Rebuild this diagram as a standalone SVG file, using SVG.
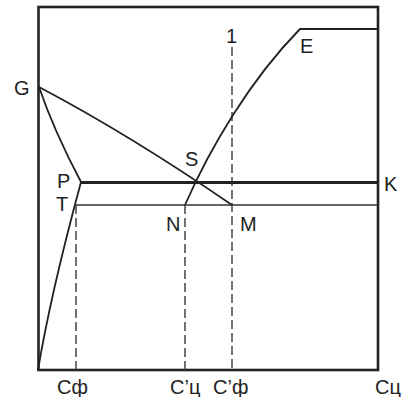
<svg xmlns="http://www.w3.org/2000/svg" width="403" height="397" viewBox="0 0 403 397">
<style>
.frame{fill:none;stroke:#222;stroke-width:2.6}
.curve{fill:none;stroke:#222;stroke-width:1.8}
.thick{fill:none;stroke:#222;stroke-width:3}
.thin{fill:none;stroke:#333;stroke-width:1.4}
.dash{fill:none;stroke:#444;stroke-width:1.5;stroke-dasharray:9 4}
text{font-family:"Liberation Sans",Arial,sans-serif;font-size:20px;fill:#222}
</style>
<rect x="0" y="0" width="403" height="397" fill="#fff"/>
<g id="frame"><rect class="frame" x="38.5" y="7" width="339.5" height="363"/></g>
<g id="connectors">
<path class="dash" d="M232,47 V370"/>
<path class="dash" d="M76,205 V370"/>
<path class="dash" d="M185,205 V370"/>
<path class="curve" d="M39,87 Q54,131 81,182"/>
<path class="curve" d="M81,182 C68,230 48,310 38,370"/>
<path class="curve" d="M39,87 Q130,135 232,205"/>
<path class="curve" d="M185,205 C210,148 250,80 300,29 H378"/>
<path class="thick" d="M81,182.5 H378"/>
<path class="thin" d="M76,205 H378"/>
</g>
<g id="G"><text x="14" y="95">G</text></g>
<g id="P"><text x="57" y="188">P</text></g>
<g id="T"><text x="56" y="211">T</text></g>
<g id="S"><text x="185" y="166">S</text></g>
<g id="N"><text x="166" y="231">N</text></g>
<g id="M"><text x="240" y="231">M</text></g>
<g id="K"><text x="384" y="191">K</text></g>
<g id="E"><text x="300" y="53">E</text></g>
<g id="label1"><text x="226" y="43">1</text></g>
<g id="Cf"><text x="57" y="394">Cф</text></g>
<g id="Cc1"><text x="170" y="394">C’ц</text></g>
<g id="Cf1"><text x="213" y="394">C’ф</text></g>
<g id="Cc"><text x="375" y="394">Cц</text></g>
</svg>
